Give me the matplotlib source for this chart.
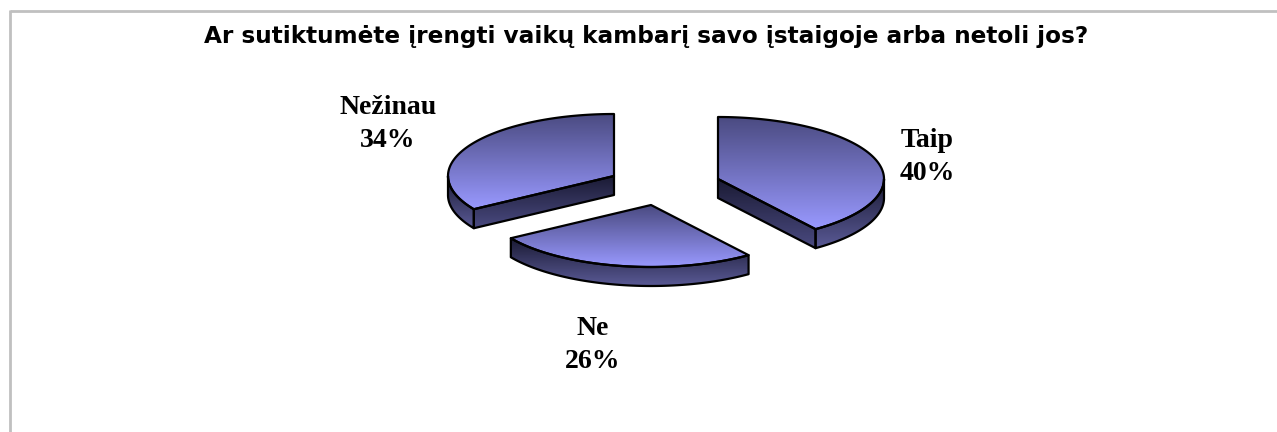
import numpy as np
import matplotlib
matplotlib.use('Agg')
import matplotlib.pyplot as plt
from matplotlib.colors import LinearSegmentedColormap
from matplotlib.patches import Polygon

title = 'Ar sutiktumėte įrengti vaikų kambarį savo įstaigoje arba netoli jos?'
labels = ['Taip', 'Ne', 'Nežinau']
values = [40, 26, 34]

# layout, in pixels of the picture
centers = [(718, 179), (651, 205), (614, 176)]
label_pos = [(927, 157), (593, 345), (388, 124)]
rx, ry, depth = 166, 62, 19

top_cmap = LinearSegmentedColormap.from_list('top', ['#4a4a80', '#9999ff'])
side_cmap = LinearSegmentedColormap.from_list('side', ['#1a1a33', '#5a5a96'])
cut_cmap = LinearSegmentedColormap.from_list('cut', ['#1a1a33', '#4a4a80'])

fig = plt.figure(figsize=(12.77, 4.32), dpi=100)
ax = fig.add_axes([0, 0, 1, 1])
ax.set_xlim(0, 1277)
ax.set_ylim(432, 0)
ax.axis('off')


def rim(cx, cy, a0, a1):
    # angles in degrees, clockwise from 12 o'clock
    t = np.radians(np.linspace(a0, a1, 120))
    return np.column_stack([cx + rx * np.sin(t), cy - ry * np.cos(t)])


def draw_face(points, cmap):
    x0, y0 = points.min(axis=0)
    x1, y1 = points.max(axis=0)
    grad = np.linspace(0, 1, 256).reshape(-1, 1)
    im = ax.imshow(grad, cmap=cmap, extent=[x0, x1, y1, y0], aspect='auto', interpolation='bilinear')
    patch = Polygon(points, closed=True, facecolor='none', edgecolor='black', linewidth=1.6, joinstyle='round')
    ax.add_patch(patch)
    im.set_clip_path(patch)
    ax.set_xlim(0, 1277)
    ax.set_ylim(432, 0)


edges = np.cumsum([0] + values) / sum(values) * 360

for i in range(len(values)):
    cx, cy = centers[i]
    a0, a1 = edges[i], edges[i + 1]
    mid = rim(cx, cy, (a0 + a1) / 2, (a0 + a1) / 2)[0]

    # straight cut faces, only those with the slice lying behind them
    for a in (a0, a1):
        end = rim(cx, cy, a, a)[0]
        if abs(end[0] - cx) < 1:
            continue
        line_y = cy + (mid[0] - cx) * (end[1] - cy) / (end[0] - cx)
        if mid[1] < line_y:
            pts = np.array([(cx, cy), end, end + (0, depth), (cx, cy + depth)])
            draw_face(pts, cut_cmap)

    # outer side, front half of the rim only
    s0, s1 = max(a0, 90), min(a1, 270)
    if s1 > s0:
        arc = rim(cx, cy, s0, s1)
        pts = np.vstack([arc, arc[::-1] + (0, depth)])
        draw_face(pts, side_cmap)

    # top of the slice
    pts = np.vstack([[(cx, cy)], rim(cx, cy, a0, a1)])
    draw_face(pts, top_cmap)

    pct = f'{values[i]}%'
    ax.text(label_pos[i][0], label_pos[i][1], f'{labels[i]}\n{pct}', ha='center', va='center',
            family='Liberation Serif', fontweight='bold', fontsize=20, linespacing=1.37, color='black')

ax.text(646.5, 37, title, ha='center', va='center', family='DejaVu Sans', fontweight='bold', fontsize=16.7, color='black')

# grey frame, top and left only
ax.plot([9.5, 1277], [10.5, 10.5], color='#c0c0c0', linewidth=2, solid_capstyle='butt')
ax.plot([9.5, 9.5], [10, 432], color='#c0c0c0', linewidth=2, solid_capstyle='butt')

fig.savefig('out.png', dpi=100, facecolor='white')
